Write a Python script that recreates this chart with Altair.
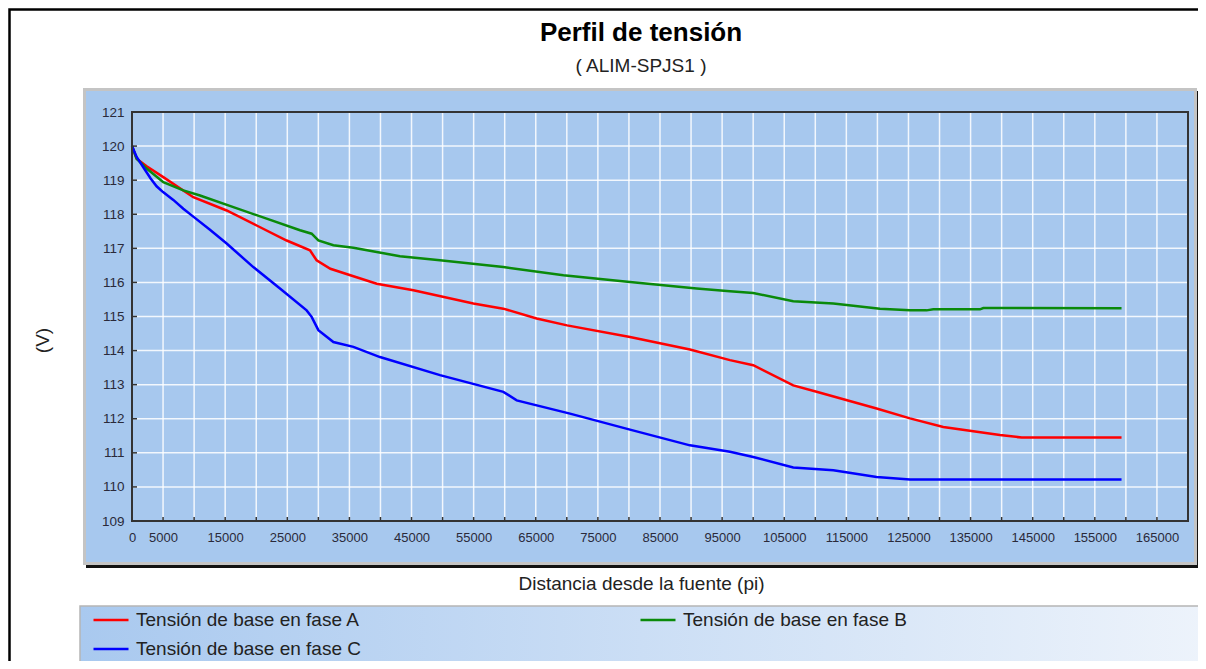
import altair as alt
import pandas as pd

# ---------------- data ----------------
series_names = ["Tensión de base en fase A", "Tensión de base en fase B", "Tensión de base en fase C"]
series_colors = ["#ff0000", "#0a8a0a", "#0000ff"]

dist_a = [0, 750, 2360, 5040, 9870, 15240, 20070, 24900, 28650, 29720, 31940, 35150, 39400,
          45300, 54950, 59780, 65140, 70040, 80170, 89820, 96260, 100010, 106450, 110210,
          119870, 125240, 130600, 139720, 143220, 159300]
volt_a = [120.0, 119.63, 119.41, 119.09, 118.50, 118.11, 117.67, 117.23, 116.94, 116.65, 116.40,
          116.21, 115.96, 115.77, 115.38, 115.23, 114.94, 114.74, 114.40, 114.03, 113.72, 113.57,
          112.98, 112.79, 112.30, 112.01, 111.76, 111.52, 111.45, 111.45]

dist_b = [0, 750, 2360, 5040, 8260, 10950, 16320, 21680, 27050, 28920, 30000, 32420, 35640,
          39390, 43140, 49580, 59780, 69450, 80170, 90900, 96260, 100010, 106450, 112900,
          120410, 125240, 127920, 129000, 136510, 137050, 159300]
volt_b = [120.0, 119.63, 119.34, 118.94, 118.70, 118.55, 118.21, 117.87, 117.53, 117.43, 117.23,
          117.09, 117.02, 116.89, 116.77, 116.65, 116.45, 116.21, 116.01, 115.82, 115.74, 115.69,
          115.45, 115.38, 115.23, 115.18, 115.18, 115.21, 115.21, 115.25, 115.24]

dist_c = [0, 750, 1820, 3000, 3960, 5000, 6650, 8260, 9870, 12500, 15240, 19530, 23820, 28110,
          28920, 30000, 32420, 35640, 39920, 49580, 59780, 61930, 70510, 80170, 89820, 96260,
          100010, 106450, 112900, 119870, 125240, 159300]
volt_c = [120.0, 119.68, 119.38, 119.05, 118.82, 118.65, 118.42, 118.16, 117.93, 117.55, 117.14,
          116.45, 115.82, 115.18, 114.99, 114.60, 114.25, 114.11, 113.81, 113.28, 112.79, 112.54,
          112.15, 111.68, 111.22, 111.03, 110.88, 110.57, 110.49, 110.29, 110.22, 110.22]

x_label_values = [0, 5000, 15000, 25000, 35000, 45000, 55000, 65000, 75000, 85000, 95000,
                  105000, 115000, 125000, 135000, 145000, 155000, 165000]
x_grid_values = [0, 5000, 10000, 15000, 20000, 25000, 30000, 35000, 40000, 45000, 50000, 55000,
                 60000, 65000, 70000, 75000, 80000, 85000, 90000, 95000, 100000, 105000, 110000,
                 115000, 120000, 125000, 130000, 135000, 140000, 145000, 150000, 155000, 160000,
                 165000]
y_values = [109, 110, 111, 112, 113, 114, 115, 116, 117, 118, 119, 120, 121]

title_text = "Perfil de tensión"
subtitle_text = "( ALIM-SPJS1 )"
x_title = "Distancia desde la fuente (pi)"
y_title = "(V)"

# ---------------- tables ----------------
rows = []
for name, xs, ys in zip(series_names, [dist_a, dist_b, dist_c], [volt_a, volt_b, volt_c]):
    for xv, yv in zip(xs, ys):
        rows.append({"dist": xv, "volt": yv, "serie": name})
df = pd.DataFrame(rows)
df_xgrid = pd.DataFrame({"dist": x_grid_values})
df_ygrid = pd.DataFrame({"volt": y_values})
one = pd.DataFrame({"k": [0]})

W, H = 1056, 409
FONT = "Liberation Sans"
PANEL = "#a7c8ee"

xscale = alt.Scale(domain=[0, 170000], nice=False, zero=False)
yscale = alt.Scale(domain=[109, 121], nice=False, zero=False)

x_axis = alt.Axis(values=x_label_values, format="d", labelOverlap=False, labelFlush=False,
                  grid=False, ticks=False, domain=False, labelFontSize=13,
                  labelColor="#2a2a3a", labelFont=FONT, labelPadding=10,
                  title=x_title, titleX=509, titleY=62, titleFontSize=19,
                  titleFontWeight="normal", titleColor="#222222", titleFont=FONT,
                  titleBaseline="middle", titleAlign="center", zindex=1)
y_axis = alt.Axis(values=y_values, format="d", labelOverlap=False, labelFlush=False,
                  grid=False, ticks=False, domain=False, labelFontSize=13.5,
                  labelColor="#2a2a3a", labelFont=FONT, labelPadding=8,
                  title=y_title, titleAngle=270, titleX=-90, titleY=228,
                  titleFontSize=19, titleFontWeight="normal", titleColor="#222222",
                  titleFont=FONT, titleBaseline="middle", titleAlign="center", zindex=1)

X = alt.X("dist:Q", scale=xscale, axis=x_axis)
Y = alt.Y("volt:Q", scale=yscale, axis=y_axis)

# ---------------- decorative layers ----------------
frame = alt.Chart(one).mark_rect(fillOpacity=0, stroke="black", strokeWidth=2.5).encode(
    x=alt.value(-122.5), x2=alt.value(1072), y=alt.value(-102.5), y2=alt.value(600))

shadow = alt.Chart(one).mark_rect(color="#111111").encode(
    x=alt.value(-46), x2=alt.value(1069), y=alt.value(-21), y2=alt.value(456))
gray = alt.Chart(one).mark_rect(color="#c4c4c4").encode(
    x=alt.value(-49), x2=alt.value(1065), y=alt.value(-24), y2=alt.value(453))
panel = alt.Chart(one).mark_rect(color=PANEL).encode(
    x=alt.value(-46), x2=alt.value(1062), y=alt.value(-21), y2=alt.value(450))

legend_bg = alt.Chart(one).mark_rect(
    color=alt.LinearGradient(
        gradient="linear",
        stops=[alt.GradientStop(color="#a9c9ef", offset=0),
               alt.GradientStop(color="#edf3fb", offset=1)],
        x1=0, x2=1, y1=0, y2=0),
    stroke="#b5b5b5", strokeWidth=1.5,
).encode(x=alt.value(-52), x2=alt.value(1072), y=alt.value(494), y2=alt.value(570))

grid_x = alt.Chart(df_xgrid).mark_rule(color="white", strokeWidth=1.5, opacity=0.85).encode(x=X)
grid_y = alt.Chart(df_ygrid).mark_rule(color="white", strokeWidth=1.5, opacity=0.85).encode(y=Y)

lines = alt.Chart(df).mark_line(strokeWidth=2.5).encode(
    x=X,
    y=Y,
    color=alt.Color("serie:N",
                    scale=alt.Scale(domain=series_names, range=series_colors),
                    legend=alt.Legend(title=None, orient="none", legendX=-40, legendY=489,
                                      direction="horizontal",
                                      columns=2, columnPadding=274, rowPadding=-5,
                                      symbolType="stroke", symbolSize=1225,
                                      symbolStrokeWidth=2.5, labelOffset=6,
                                      labelFontSize=19, labelFont=FONT, labelColor="#222222",
                                      labelLimit=400, padding=0)),
    detail="serie:N",
)

border = alt.Chart(one).mark_rect(fillOpacity=0, stroke="#333333", strokeWidth=2).encode(
    x=alt.value(0), x2=alt.value(W), y=alt.value(0), y2=alt.value(H))

ticks_x = alt.Chart(df_xgrid).mark_rule(color="#333333", strokeWidth=1.5).encode(
    x=X, y=alt.value(H), y2=alt.value(H - 4))
ticks_y = alt.Chart(df_ygrid).mark_rule(color="#333333", strokeWidth=1.5).encode(
    y=Y, x=alt.value(0), x2=alt.value(5))

title = alt.Chart(one).mark_text(font=FONT, fontSize=26, fontWeight="bold", color="black",
                                 align="center", baseline="middle").encode(
    x=alt.value(509), y=alt.value(-79), text=alt.value(title_text))
subtitle = alt.Chart(one).mark_text(font=FONT, fontSize=19, color="#222222",
                                    align="center", baseline="middle").encode(
    x=alt.value(509), y=alt.value(-46), text=alt.value(subtitle_text))

chart = alt.layer(
    frame, shadow, gray, panel, legend_bg, grid_x, grid_y, lines, border, ticks_x, ticks_y,
    title, subtitle
).properties(
    width=W, height=H,
    autosize=alt.AutoSizeParams(type="none"),
    padding={"left": 124, "top": 104, "right": 10, "bottom": 140},
    background="white",
).configure_view(strokeWidth=0)

chart.save("out.html", embed_options={"renderer": "svg", "actions": False})
